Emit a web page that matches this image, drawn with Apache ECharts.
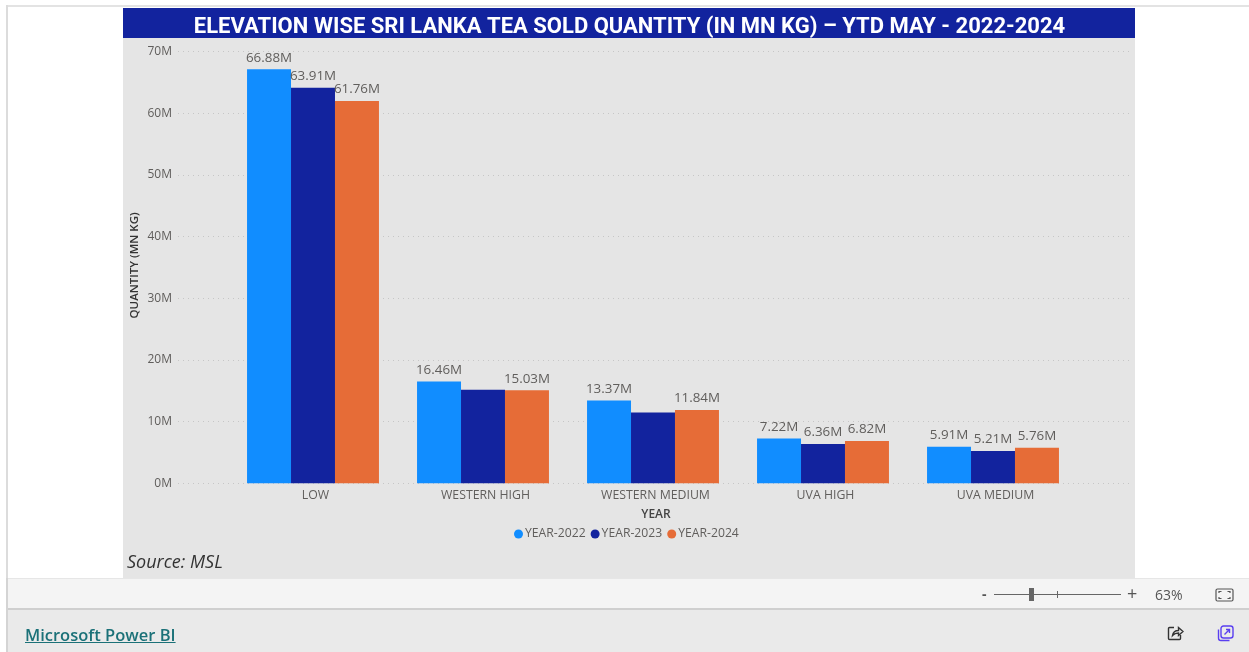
<!DOCTYPE html>
<html>
<head>
<meta charset="utf-8">
<title>Sri Lanka Tea Sold Quantity</title>
<script src="https://cdn.jsdelivr.net/npm/echarts@6/dist/echarts.min.js"></script>
<style>
html, body { margin: 0; padding: 0; width: 1249px; height: 652px; overflow: hidden; background: #fff; font-family: "Open Sans", sans-serif; }
#frameTop { position: absolute; left: 6px; top: 5px; width: 1243px; height: 2px; background: #e3e3e3; }
#frameLeft { position: absolute; left: 6px; top: 5px; width: 2px; height: 573px; background: #dcdcdc; }
#chart { position: absolute; left: 0; top: 0; width: 1249px; height: 652px; }
#zoomBar { position: absolute; left: 6px; top: 578px; width: 1243px; height: 30px; background: #f4f4f4; border-top: 1px solid #e6e6e6; box-sizing: border-box; }
#footer { position: absolute; left: 6px; top: 608px; width: 1243px; height: 44px; background: #eaeaea; border-top: 2px solid #cfcfcf; box-sizing: border-box; }
#edge { position: absolute; left: 6px; top: 578px; width: 2px; height: 74px; background: #d4d4d4; }
.abs { position: absolute; }
#link { left: 25px; top: 624px; font-size: 16.5px; line-height: 22px; color: #1b7178; text-decoration: underline; font-weight: 600; }
.zoomText { color: #555; font-size: 14px; line-height: 18px; }
</style>
</head>
<body>
<div id="frameTop"></div>
<div id="frameLeft"></div>
<div id="zoomBar"></div>
<div id="footer"></div>
<div id="edge"></div>
<div id="chart"></div>

<div class="abs" id="link">Microsoft Power BI</div>
<div class="abs zoomText" style="left:982px;top:585px;font-weight:700;">-</div>
<div class="abs" style="left:994px;top:594px;width:127px;height:1px;background:#666;"></div>
<div class="abs" style="left:1029px;top:588px;width:5px;height:13px;background:#666;"></div>
<div class="abs" style="left:1057px;top:591px;width:1px;height:7px;background:#666;"></div>
<div class="abs zoomText" style="left:1127px;top:584px;font-size:18px;">+</div>
<div class="abs zoomText" style="left:1155px;top:586px;">63%</div>
<svg class="abs" style="left:1215px;top:588px;" width="19" height="14" viewBox="0 0 19 14" fill="none" stroke="#555" stroke-width="1.2">
  <rect x="1" y="1" width="17" height="12" rx="1.5"/>
  <path d="M4 5V3.5H6.5M15 5V3.5H12.5M4 9v1.5H6.5M15 9v1.5H12.5"/>
</svg>
<svg class="abs" style="left:1167px;top:625px;" width="17" height="16" viewBox="0 0 17 16" fill="none" stroke="#333" stroke-width="1.4">
  <path d="M7 2.5H2.5a1 1 0 0 0-1 1v10a1 1 0 0 0 1 1h10a1 1 0 0 0 1-1V10"/>
  <path d="M5.5 10.5c.5-3 2.5-5 6-5V2.5l4.5 4-4.5 4V8c-2.500 0-4.500.8-6 2.500z"/>
</svg>
<svg class="abs" style="left:1217px;top:625px;" width="17" height="17" viewBox="0 0 17 17" fill="none" stroke="#5a3ff0" stroke-width="1.4">
  <rect x="4" y="1" width="12" height="12" rx="2.500"/>
  <path d="M1.500 4.500v8.500a2.500 2.500 0 0 0 2.500 2.500h8.500"/>
  <path d="M7.500 9.500l5-5M9 4.500h3.500V8"/>
</svg>

<script>
const categories = ['LOW', 'WESTERN HIGH', 'WESTERN MEDIUM', 'UVA HIGH', 'UVA MEDIUM'];
const seriesNames = ['YEAR-2022', 'YEAR-2023', 'YEAR-2024'];
const year2022 = [66.88, 16.46, 13.37, 7.22, 5.91];
const year2023 = [63.91, 15.1, 11.45, 6.36, 5.21];
const year2024 = [61.76, 15.03, 11.84, 6.82, 5.76];
// the report leaves out these two labels (year-2023 series)
const unlabelled2023 = ['WESTERN HIGH', 'WESTERN MEDIUM'];
const colors = ['#118dff', '#12239e', '#e66c37'];
const yTicks = { min: 0, max: 70, interval: 10 };

const textColor = '#605e5c';
const labelFont = '"Open Sans", sans-serif';

function barSeries(name, values, color, hidden) {
  return {
    name,
    type: 'bar',
    xAxisIndex: 0,
    yAxisIndex: 0,
    data: values,
    barGap: 0,
    barCategoryGap: '22.4%',
    itemStyle: { color },
    label: {
      show: true,
      position: 'top',
      distance: 5,
      color: textColor,
      fontFamily: labelFont,
      fontSize: 13.4,
      formatter: p => (hidden.includes(p.name) ? '' : p.value.toFixed(2) + 'M')
    }
  };
}

const myChart = echarts.init(document.getElementById('chart'));
const option = {
  animation: false,
  backgroundColor: 'transparent',
  graphic: [
    { type: 'rect', z: -10, shape: { x: 123, y: 8, width: 1012, height: 570 }, style: { fill: '#e5e5e5' } },
    { type: 'rect', z: -9, shape: { x: 123, y: 8, width: 1012, height: 30 }, style: { fill: '#12239e' } },
    {
      type: 'text', z: 10, left: 127, top: 554,
      style: { text: 'Source: MSL', fill: '#333', font: 'italic 18px "Open Sans", sans-serif' }
    }
  ],
  title: {
    text: 'ELEVATION WISE SRI LANKA TEA SOLD QUANTITY (IN MN KG) – YTD MAY - 2022-2024',
    left: 624.5,
    textAlign: 'center',
    top: 10,
    textStyle: { color: '#fff', fontFamily: 'Roboto, sans-serif', fontWeight: 'bold', fontSize: 22, lineHeight: 24 }
  },
  color: colors,
  legend: {
    left: 514,
    top: 528,
    icon: 'circle',
    itemWidth: 9,
    itemHeight: 9,
    itemGap: 5,
    padding: 0,
    data: seriesNames,
    textStyle: { color: textColor, fontFamily: labelFont, fontSize: 12.2, padding: [0, 0, 0, -3] }
  },
  // grid 0 holds the bars, grid 1 only the wider y axis and its dotted lines
  grid: [
    { left: 228, top: 50, width: 850, height: 433.3 },
    { left: 178, top: 51.4, width: 952, height: 432 }
  ],
  xAxis: [
    {
      type: 'category',
      gridIndex: 0,
      data: categories,
      axisLine: { show: false },
      axisTick: { show: false },
      axisLabel: { color: textColor, fontFamily: labelFont, fontSize: 12.3, margin: 6, padding: [0, 0, 0, 5] },
      name: 'YEAR',
      nameLocation: 'middle',
      nameGap: 25,
      nameTextStyle: { color: '#444', fontFamily: labelFont, fontSize: 12, fontWeight: 600, padding: [0, 0, 0, 6] }
    },
    { type: 'value', gridIndex: 1, show: false, min: 0, max: 1 }
  ],
  yAxis: [
    { type: 'value', gridIndex: 0, show: false, ...yTicks },
    {
      type: 'value',
      gridIndex: 1,
      ...yTicks,
      axisLine: { show: false },
      axisTick: { show: false },
      axisLabel: { color: textColor, fontFamily: labelFont, fontSize: 12, margin: 6, formatter: '{value}M' },
      splitLine: { lineStyle: { color: '#c6c6c6', type: [1, 4], width: 1 } },
      name: 'QUANTITY (MN KG)',
      nameLocation: 'middle',
      nameGap: 37,
      nameMoveOverlap: false,
      nameTextStyle: { color: '#333', fontFamily: labelFont, fontSize: 11.5, fontWeight: 600, padding: [0, 0, 0, 4] }
    }
  ],
  series: [
    barSeries(seriesNames[0], year2022, colors[0], []),
    barSeries(seriesNames[1], year2023, colors[1], unlabelled2023),
    barSeries(seriesNames[2], year2024, colors[2], [])
  ]
};
myChart.setOption(option);
</script>
</body>
</html>
